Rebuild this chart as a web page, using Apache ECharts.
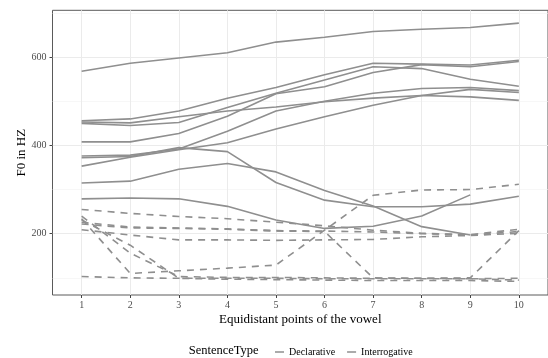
<!DOCTYPE html>
<html>
<head>
<meta charset="utf-8">
<script src="https://cdn.jsdelivr.net/npm/echarts@6/dist/echarts.min.js"></script>
<style>html,body{margin:0;padding:0;background:#fff}#c{width:548px;height:358px}</style>
</head>
<body>
<div id="c"></div>
<script>
// ---- data ----
const categories = [1, 2, 3, 4, 5, 6, 7, 8, 9, 10];
const yMajorTicks = [200, 400, 600];
const yMinorTicks = [100, 300, 500, 700];

// Declarative (solid lines)
const decl1 = [568, 586, 598, 610, 634, 645, 658, 663, 667, 677];
const decl2 = [456, 460, 478, 507, 531, 560, 586, 584, 582, 593];
const decl3 = [450, 445, 452, 486, 518, 548, 578, 574, 550, 534];
const decl4 = [453, 451, 465, 478, 487, 499, 507, 513, 510, 502];
const decl5 = [408, 408, 427, 466, 517, 533, 565, 583, 578, 590];
const decl6 = [376, 378, 392, 432, 478, 500, 518, 529, 531, 524];
const decl7 = [353, 373, 390, 406, 437, 465, 491, 513, 527, 520];
const decl8 = [372, 375, 395, 386, 316, 276, 261, 261, 267, 285];
const decl9 = [315, 319, 346, 359, 340, 298, 263, 216, 197];
const decl10 = [279, 281, 279, 262, 231, 212, 217, 240, 288];

// Interrogative (dashed lines)
const inter1 = [255, 246, 239, 234, 226, 218, 208, 201, 197, 205];
const inter2 = [226, 215, 213, 211, 207, 206, 204, 200, 198, 210];
const inter3 = [222, 213, 212, 210, 206, 205, 100, 99, 98, 95];
const inter4 = [209, 197, 186, 186, 185, 186, 187, 193, 196, 201];
const inter5 = [234, 110, 116, 122, 129, 208, 287, 299, 300, 312];
const inter6 = [240, 156, 103, 101, 101, 100, 99, 99, 100, 207];
const inter7 = [231, 174, 99, 97, 96, 95, 94, 94, 94, 92];
const inter8 = [103, 100, 99, 99, 99, 98, 98, 98, 98, 99];

const declarative = [decl1, decl2, decl3, decl4, decl5, decl6, decl7, decl8, decl9, decl10];
const interrogative = [inter1, inter2, inter3, inter4, inter5, inter6, inter7, inter8];

// ---- chart ----
const FONT = 'Liberation Serif';
const LINE = '#8f8f8f';
const toPairs = vals => vals.map((v, i) => [categories[i], v]);

const series = [];
declarative.forEach(vals => series.push({
  name: 'Declarative', type: 'line', data: toPairs(vals), symbol: 'none',
  lineStyle: { color: LINE, width: 1.6, type: 'solid' }, itemStyle: { color: LINE },
  silent: true
}));
interrogative.forEach(vals => series.push({
  name: 'Interrogative', type: 'line', data: toPairs(vals), symbol: 'none',
  lineStyle: { color: LINE, width: 1.6, type: [7, 6] }, itemStyle: { color: LINE },
  silent: true
}));

const chart = echarts.init(document.getElementById('c'), null, { renderer: 'canvas' });
chart.setOption({
  animation: false,
  backgroundColor: '#fff',
  textStyle: { fontFamily: FONT },
  grid: { left: 52.5, right: -0.9, top: 10.3, bottom: 63, show: true, borderColor: '#5a5a5a', borderWidth: 1, backgroundColor: 'transparent' },
  xAxis: {
    type: 'value', min: 0.4, max: 10.6,
    name: 'Equidistant points of the vowel', nameLocation: 'middle', nameGap: 18, nameMoveOverlap: false,
    nameTextStyle: { fontFamily: FONT, fontSize: 13, color: '#000' },
    axisLine: { show: false },
    axisTick: { show: true, length: 3, customValues: categories, lineStyle: { color: '#444', width: 1 } },
    axisLabel: { customValues: categories, margin: 5, fontFamily: FONT, fontSize: 10, color: '#4d4d4d' },
    splitLine: { show: true, lineStyle: { color: '#ebebeb', width: 1 } }
  },
  yAxis: [{
    type: 'value', min: 61.2, max: 706,
    name: 'F0 in HZ', nameLocation: 'middle', nameGap: 24, nameRotate: 90, nameMoveOverlap: false,
    nameTextStyle: { fontFamily: FONT, fontSize: 13, color: '#000' },
    axisLine: { show: false },
    axisTick: { show: true, length: 3, customValues: yMajorTicks, lineStyle: { color: '#444', width: 1 } },
    axisLabel: { customValues: yMajorTicks, margin: 6, fontFamily: FONT, fontSize: 10, color: '#4d4d4d' },
    splitLine: { show: true, lineStyle: { color: '#ebebeb', width: 1 } }
  }, {
    type: 'value', min: 61.2, max: 706, position: 'left',
    axisLine: { show: false },
    axisTick: { show: false, customValues: yMinorTicks },
    axisLabel: { show: false, customValues: yMinorTicks },
    splitLine: { show: true, lineStyle: { color: '#f2f2f2', width: 0.6 } }
  }],
  legend: {
    left: 270, top: 342, itemWidth: 9, itemHeight: 1.5, itemGap: 12, icon: 'rect',
    data: ['Declarative', 'Interrogative'],
    textStyle: { fontFamily: FONT, fontSize: 10, color: '#000' },
    selectedMode: false
  },
  graphic: [{
    type: 'text', left: 188.7, top: 344.5,
    style: { text: 'SentenceType', fontFamily: FONT, fontSize: 12.5, fill: '#000' }
  }],
  series: series
});
</script>
</body>
</html>
